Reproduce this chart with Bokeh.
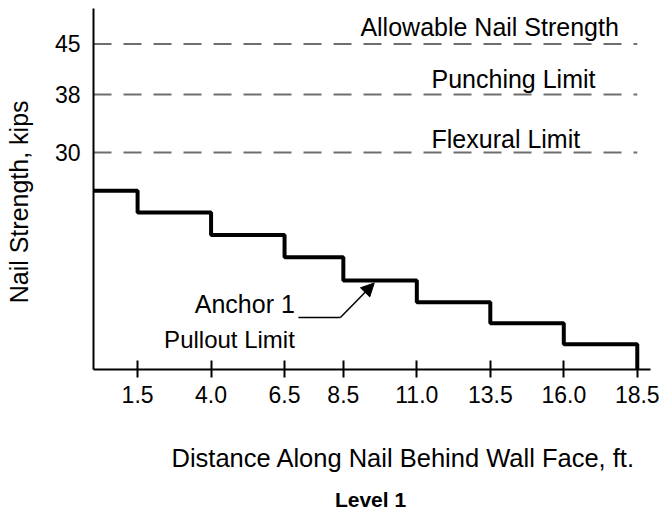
import math
from bokeh.plotting import figure
from bokeh.layouts import column, row
from bokeh.models import FixedTicker, Label, Arrow, NormalHead, Range1d, NumeralTickFormatter
from bokeh.embed import file_html
from bokeh.resources import INLINE

# ---- data ----
step_edges = [0, 1.5, 4.0, 6.5, 8.5, 11.0, 13.5, 16.0, 18.5]
pullout_strength = [24.7, 21.7, 18.6, 15.5, 12.3, 9.3, 6.4, 3.5]
limit_values = [45, 38, 30]
limit_names = ["Allowable Nail Strength", "Punching Limit", "Flexural Limit"]
x_ticks = [1.5, 4.0, 6.5, 8.5, 11.0, 13.5, 16.0, 18.5]
x_tick_labels = ["1.5", "4.0", "6.5", "8.5", "11.0", "13.5", "16.0", "18.5"]
y_ticks = [30, 38, 45]
y_title = "Nail Strength, kips"
x_title = "Distance Along Nail Behind Wall Face, ft."
caption = "Level 1"

FONT = "Liberation Sans"
LEFT_W, MAIN_W, TOP_H, BOTTOM_H = 40, 620, 420, 92


def blank(width, height):
    f = figure(width=width, height=height, x_range=Range1d(0, width), y_range=Range1d(0, height),
               output_backend="svg", toolbar_location=None, min_border=0,
               x_axis_location=None, y_axis_location=None)
    f.outline_line_color = None
    f.xgrid.visible = False
    f.ygrid.visible = False
    f.background_fill_color = "white"
    f.border_fill_color = "white"
    return f


# ---- main chart ----
p = figure(width=MAIN_W, height=TOP_H,
           x_range=Range1d(0, 18.95), y_range=Range1d(0, 49.9),
           output_backend="svg", toolbar_location=None,
           min_border_left=53, min_border_right=10,
           min_border_top=8, min_border_bottom=51)
p.outline_line_color = None
p.xgrid.visible = False
p.ygrid.visible = False
p.background_fill_color = "white"
p.border_fill_color = "white"

p.segment(x0=[step_edges[0]] * len(limit_values), y0=limit_values,
          x1=[step_edges[-1]] * len(limit_values), y1=limit_values,
          line_color="#6e6e6e", line_width=2, line_dash="18 12")

p.step(x=step_edges, y=pullout_strength + [0], mode="after",
       line_color="black", line_width=4)

xa = p.xaxis[0]
xa.ticker = FixedTicker(ticks=x_ticks)
xa.formatter = NumeralTickFormatter(format="0.0")
xa.major_label_overrides = {t: s for t, s in zip(x_ticks, x_tick_labels)}
xa.axis_line_width = 2
xa.axis_line_color = "black"
xa.major_tick_in = 9
xa.major_tick_out = 8
xa.major_tick_line_width = 2
xa.major_tick_line_color = "black"
xa.minor_tick_in = 0
xa.minor_tick_out = 0
xa.major_label_standoff = 8
xa.major_label_text_font = FONT
xa.major_label_text_font_size = "23px"
xa.major_label_text_color = "black"

ya = p.yaxis[0]
ya.ticker = FixedTicker(ticks=y_ticks)
ya.axis_line_width = 2
ya.axis_line_color = "black"
ya.major_tick_in = 0
ya.major_tick_out = 0
ya.minor_tick_in = 0
ya.minor_tick_out = 0
ya.major_label_standoff = 13
ya.major_label_text_font = FONT
ya.major_label_text_font_size = "23px"
ya.major_label_text_color = "black"


def add_label(fig, x, y, text, size="25px", align="left", angle=0.0, style="normal"):
    fig.add_layout(Label(x=x, y=y, text=text, text_font=FONT, text_font_size=size,
                         text_align=align, text_baseline="middle", angle=angle,
                         text_color="black", text_font_style=style))


add_label(p, 9.08, 47.3, limit_names[0])
add_label(p, 11.5, 40.1, limit_names[1])
add_label(p, 11.5, 31.9, limit_names[2])

add_label(p, 6.85, 9.0, "Anchor 1", size="25px", align="right")
add_label(p, 6.85, 4.15, "Pullout Limit", size="24px", align="right")
p.add_layout(Arrow(end=None, x_start=6.97, y_start=7.18, x_end=8.40, y_end=7.18,
                   line_color="black", line_width=1.5))
p.add_layout(Arrow(end=NormalHead(size=13, fill_color="black", line_color="black"),
                   x_start=8.40, y_start=7.18, x_end=9.55, y_end=11.95,
                   line_color="black", line_width=1.5))

# ---- y title strip (pixel units) ----
left = blank(LEFT_W, TOP_H)
add_label(left, 18, TOP_H - 225, y_title, size="25px", align="center", angle=math.pi / 2)

# ---- bottom strip with x title and caption (pixel units) ----
bottom = blank(LEFT_W + MAIN_W, BOTTOM_H)
add_label(bottom, 171, BOTTOM_H - 37.5, x_title, size="25.5px", align="left")
add_label(bottom, 370, BOTTOM_H - 78.5, caption, size="21px", align="center", style="bold")

layout = column(row(left, p, spacing=0), bottom, spacing=0)

open("out.html", "w").write(file_html(layout, INLINE))
